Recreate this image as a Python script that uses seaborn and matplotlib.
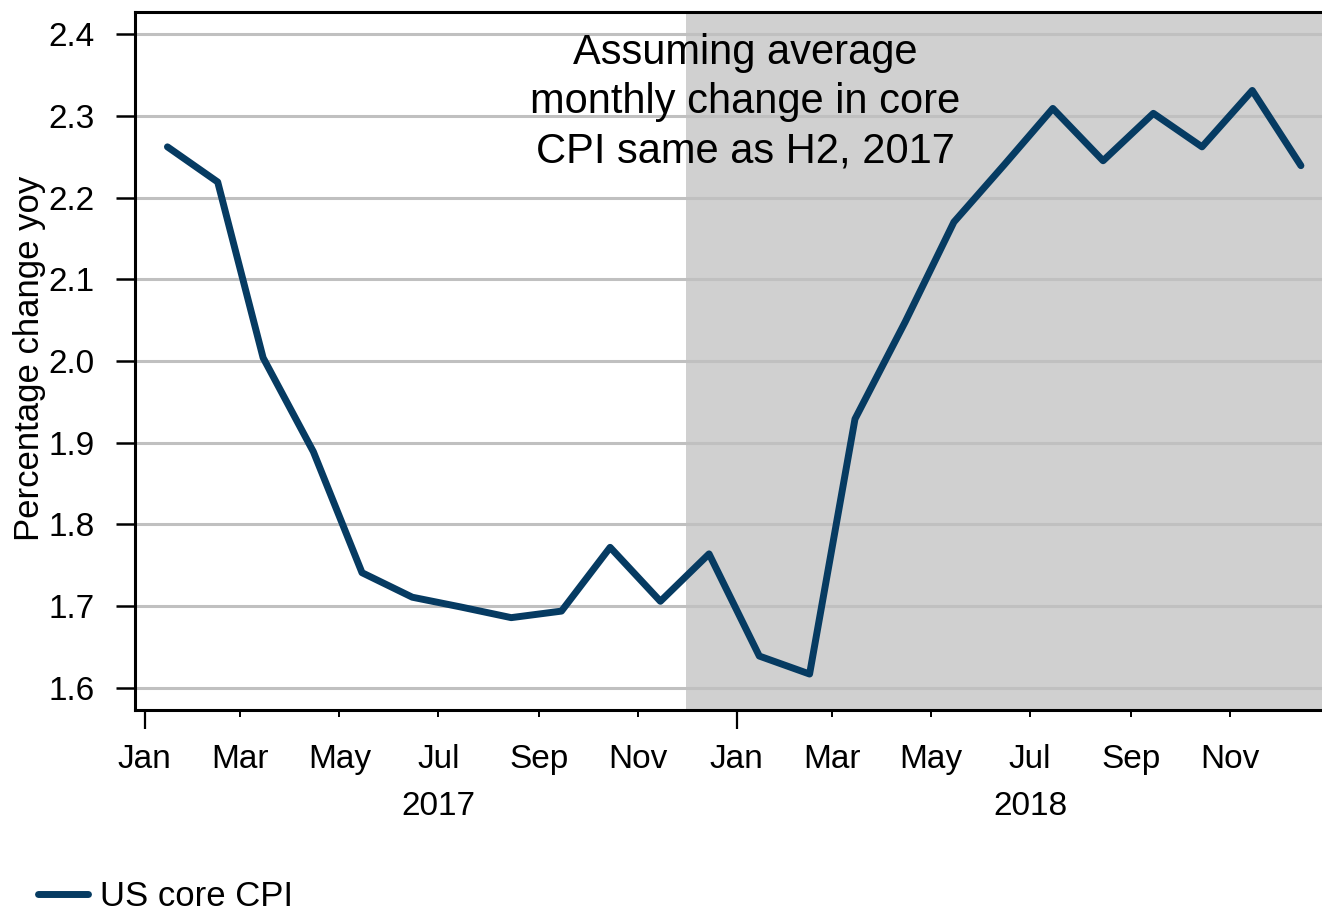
import pandas as pd
import seaborn as sns
from matplotlib import pyplot as plt
import matplotlib.dates as mdates
import matplotlib.transforms as mtransforms

# monthly points (mid-month), Jan 2017 - Dec 2018
months = pd.date_range("2017-01-01", periods=24, freq="MS") + pd.Timedelta(days=14)
core_cpi = [2.262, 2.219, 2.004, 1.889, 1.741, 1.711, 1.699, 1.686, 1.694, 1.772, 1.706, 1.764,
            1.639, 1.617, 1.929, 2.048, 2.170, 2.240, 2.309, 2.245, 2.303, 2.262, 2.331, 2.239]
series_name = "US core CPI"
y_ticks = [1.6, 1.7, 1.8, 1.9, 2.0, 2.1, 2.2, 2.3, 2.4]
years = ["2017", "2018"]
note = "Assuming average\nmonthly change in core\nCPI same as H2, 2017"

df = pd.DataFrame({"date": months, "value": core_cpi})

sns.set_style("white")
plt.rcParams['font.family'] = ['Liberation Sans', 'DejaVu Sans']
plt.rcParams['text.color'] = 'black'
plt.rcParams['xtick.color'] = 'black'
plt.rcParams['ytick.color'] = 'black'

fig = plt.figure(figsize=(13.22, 9.11), dpi=100)
ax = fig.add_axes([135/1322, 201/911, 1187/1322, 698/911])

# shaded projection period
ax.axvspan(pd.Timestamp("2017-12-01"), pd.Timestamp("2019-02-01"), color="#d0d0d0", lw=0, zorder=0)
for v in y_ticks:
    ax.axhline(v, color="#c0c0c0", lw=2.2, zorder=1)

sns.lineplot(data=df, x="date", y="value", ax=ax, color="#063b62", lw=5.0, label=series_name, zorder=3)

ax.set_xlim(pd.Timestamp("2016-12-26"), pd.Timestamp("2018-12-28"))
ax.set_ylim(1.573, 2.427)
ax.set_yticks(y_ticks)
ax.set_yticklabels([f"{v:.1f}" for v in y_ticks])

ax.xaxis.set_major_locator(mdates.MonthLocator(bymonth=[1]))
ax.xaxis.set_major_formatter(mdates.DateFormatter("%b"))
ax.xaxis.set_minor_locator(mdates.MonthLocator(bymonth=[3, 5, 7, 9, 11]))
ax.xaxis.set_minor_formatter(mdates.DateFormatter("%b"))
ax.tick_params(axis="x", which="major", length=14, width=1.6, pad=10.5, labelsize=24, direction="out", bottom=True)
ax.tick_params(axis="x", which="minor", length=5, width=1.4, pad=19.5, labelsize=24, direction="out", bottom=True)
ax.tick_params(axis="y", length=14, width=1.8, pad=15, labelsize=24, direction="out", left=True)

for side in ["left", "bottom", "top"]:
    ax.spines[side].set_linewidth(2.2)
    ax.spines[side].set_color("black")
ax.spines["right"].set_visible(False)

ax.set_xlabel("")
ax.set_ylabel("")
fig.text(30/1322, 1 - 358/911, "Percentage change yoy", rotation=90, ha="center", va="center", fontsize=25)

trans = mtransforms.blended_transform_factory(ax.transData, ax.transAxes)
for yr in years:
    ax.text(pd.Timestamp(f"{yr}-07-01"), -0.138, yr, transform=trans, ha="center", va="center", fontsize=24)

ax.text(0.514, 0.871, note, transform=ax.transAxes, ha="center", va="center",
        multialignment="center", fontsize=30, linespacing=1.3, zorder=4)

ax.get_legend().remove()
handles, labels = ax.get_legend_handles_labels()
fig.legend(handles, labels, loc="center left", bbox_to_anchor=(38/1322, 1 - 897/911),
           frameon=False, fontsize=25, handlelength=1.45, handletextpad=0.35,
           borderpad=0, borderaxespad=0)

fig.savefig("out.png", dpi=100)
